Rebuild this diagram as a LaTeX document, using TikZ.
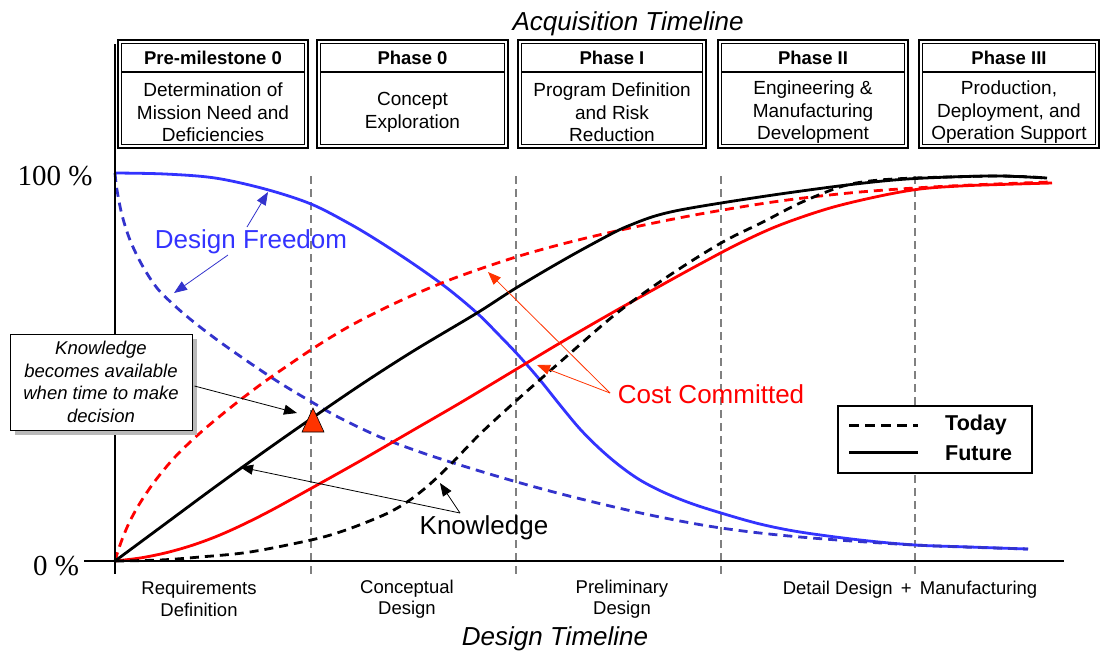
\documentclass[tikz,border=0pt]{standalone}
\usepackage{fontspec}
\setmainfont{Liberation Sans}
\newfontfamily\timesfont{Liberation Serif}
\usetikzlibrary{arrows.meta}
\definecolor{dfblue}{RGB}{51,51,255}
\definecolor{dfblued}{RGB}{51,51,204}
\definecolor{ccred}{RGB}{255,0,0}
\definecolor{arrred}{RGB}{255,51,0}
\definecolor{gridgray}{RGB}{128,128,128}
\tikzset{
  curveline/.style={line width=2.8pt},
  dashcurve/.style={line width=2.8pt, dash pattern=on 9pt off 6pt},
  gridline/.style={gridgray, line width=2pt, dash pattern=on 8pt off 5pt},
  ptr/.style={-{Triangle[length=13pt,width=10pt]}, line width=0.8pt},
  bigtxt/.style={font=\fontsize{26}{30}\selectfont, inner sep=0pt},
  ttltxt/.style={font=\itshape\fontsize{26}{30}\selectfont, inner sep=0pt},
  smtxt/.style={font=\fontsize{18.5}{21.5}\selectfont, align=center, inner sep=0pt},
}
\begin{document}
\begin{tikzpicture}[x=1pt,y=-1pt]
\useasboundingbox (0,0) rectangle (1102,654);

% grid dashed verticals
\foreach \gx in {311,516,721,915}{
  \draw[gridline] (\gx,176) -- (\gx,574);
}

% Design freedom - future
\draw[curveline, dfblue] plot[smooth, tension=0.55] coordinates {
 (115,173) (165,174) (215,178) (265,189) (311,204) (350,224) (380,242) (415,265)
 (447,288) (477,313) (500,336) (520,357) (540,380) (560,405) (580,429) (600,449)
 (620,466) (640,480) (663,492) (690,503) (721,513) (760,524) (800,532) (860,540)
 (915,545) (970,547) (1028,549)};
% Design freedom - today
\draw[dashcurve, dfblued] plot[smooth, tension=0.55] coordinates {
 (115,173) (117,190) (122,215) (130,240) (142,265) (157,288) (175,306) (195,323)
 (220,342) (250,363) (280,383) (310,401) (340,418) (380,437) (420,452) (460,465)
 (517,482) (577,498) (650,515) (721,528) (800,537) (915,545) (1028,549)};
% Cost committed - today
\draw[dashcurve, ccred] plot[smooth, tension=0.55] coordinates {
 (115,561) (118,551) (123,537) (130,521) (140,503) (155,481) (175,457) (200,433)
 (230,408) (260,385) (290,364) (320,344) (350,326) (385,308) (420,292) (460,276)
 (516,257) (570,242) (630,228) (700,214) (780,201) (860,192) (950,186) (1050,182)};
% Cost committed - future
\draw[curveline, ccred] plot[smooth, tension=0.55] coordinates {
 (115,561) (140,558) (165,553) (190,546) (215,537) (240,526) (270,511) (310,489)
 (360,461) (410,432) (460,403) (510,373) (560,343) (610,314) (660,286) (700,264)
 (740,243) (780,225) (830,208) (880,196) (920,189) (960,186) (1000,184.5) (1052,183)};
% Knowledge - today
\draw[dashcurve, black] plot[smooth, tension=0.55] coordinates {
 (115,561) (160,560) (200,557) (250,552) (311,540) (340,532) (367,522) (390,512)
 (410,500) (430,484) (452,463) (480,434) (517,400) (567,356) (617,313) (667,277)
 (721,243) (763,222) (800,203) (840,187) (870,181) (915,178) (1000,176) (1047,178)};
% Knowledge - future
\draw[curveline, black] plot[smooth, tension=0.55] coordinates {
 (115,561) (165,524) (215,487) (265,451) (315,416) (365,382) (415,350) (477,313)
 (516,288) (567,258) (613,233) (633,224) (655,216) (680,210) (721,203) (780,194)
 (847,185) (900,179.5) (950,177) (1000,176) (1047,178)};

% axes
\draw[line width=1.5pt] (115,44) -- (115,574);
\draw[line width=1.5pt] (84,561) -- (1064,561);

% header boxes
\foreach \l/\r/\n/\t/\b in {
 117/309/pa/{Pre-milestone 0}/{Determination of\\Mission Need and\\Deficiencies},
 316/509/pb/{Phase 0}/{Concept\\Exploration},
 517/707/pc/{Phase I}/{Program Definition\\and Risk\\Reduction},
 717/909/pd/{Phase II}/{Engineering \&\\Manufacturing\\Development},
 918/1100/pe/{Phase III}/{Production,\\Deployment, and\\Operation Support}}{
  \pgfmathsetmacro\cx{(\l+\r)/2}
  \draw[line width=2.2pt, fill=white] (\l+1,40) rectangle (\r-1,148);
  \draw[line width=1pt] (\l+4.5,43.5) rectangle (\r-4.5,144.5);
  \draw[line width=1.5pt] (\l+4.5,72) -- (\r-4.5,72);
  \node[font=\bfseries\fontsize{18.5}{21}\selectfont, inner sep=0pt] (t\n) at (\cx,57.5) {\t};
  \node[font=\fontsize{19}{22.5}\selectfont, align=center, inner sep=0pt] (b\n) at (\cx,112.5) {\b};
}

\node[ttltxt] (acq) at (628,24) {Acquisition Timeline};
\node[ttltxt] (des) at (555,639) {Design Timeline};

% y labels
\node[font=\timesfont\fontsize{29}{30}\selectfont, inner sep=0pt] (lhundred) at (55,176) {100 \%};
\node[font=\timesfont\fontsize{29}{30}\selectfont, inner sep=0pt] (lzero) at (56,566) {0 \%};

% x labels
\node[smtxt] (xa) at (199,599) {Requirements\\Definition};
\node[smtxt] (xb) at (407,599) {Conceptual\\Design};
\node[smtxt] (xc) at (622,599) {Preliminary\\Design};
\node[smtxt] (xd) at (910,590) {Detail Design\,\ +\ \,Manufacturing};

% curve labels
\node[bigtxt, text=dfblue] (dfl) at (251,242) {Design Freedom};
\node[bigtxt, text=ccred] (ccl) at (711,394) {Cost Committed};
\node[bigtxt] (knl) at (484,528) {Knowledge};

\coordinate (dfs1) at (247,227);
\coordinate (dft1) at (268,192);
\coordinate (dfs2) at (228,255);
\coordinate (dft2) at (174,293);
\draw[ptr, dfblued] (dfs1) -- (dft1);
\draw[ptr, dfblued] (dfs2) -- (dft2);

\coordinate (ccs) at (610,393);
\coordinate (cct1) at (488,272);
\coordinate (cct2) at (537,365);
\draw[ptr, arrred] (ccs) -- (cct1);
\draw[ptr, arrred] (ccs) -- (cct2);

\coordinate (kns) at (460,513);
\coordinate (knt1) at (240,467);
\coordinate (knt2) at (440,483);
\draw[ptr, black] (kns) -- (knt1);
\draw[ptr, black] (kns) -- (knt2);

% decision triangle
\draw[fill=arrred, line width=0.6pt] (313,408) -- (324,432) -- (302,432) -- cycle;

% callout
\fill[gray!55] (15,339) rectangle (197,435);
\node[draw, fill=white, line width=1pt, minimum width=182pt, minimum height=96pt,
      font=\itshape\fontsize{18.5}{22.5}\selectfont, align=center, inner sep=0pt] (callout) at (101,382)
 {Knowledge\\becomes available\\when time to make\\decision};
\coordinate (trik) at (297,413);
\draw[ptr, black] (callout.east) ++(2,4) coordinate (cals) -- (trik);

% legend
\node[draw, fill=white, line width=1.5pt, minimum width=194pt, minimum height=67pt] (legend) at (935,439.5) {};
\coordinate (lgd1) at (849,425);
\coordinate (lgd2) at (918,425);
\coordinate (lgs1) at (849,452);
\coordinate (lgs2) at (918,452);
\draw[line width=3pt, dash pattern=on 10pt off 6pt] (lgd1) -- (lgd2);
\draw[line width=3pt] (lgs1) -- (lgs2);
\node[font=\bfseries\fontsize{21.5}{24}\selectfont, inner sep=0pt, anchor=west] (ltoday) at (945,425) {Today};
\node[font=\bfseries\fontsize{21.5}{24}\selectfont, inner sep=0pt, anchor=west] (lfuture) at (945,453) {Future};
\end{tikzpicture}
\end{document}
